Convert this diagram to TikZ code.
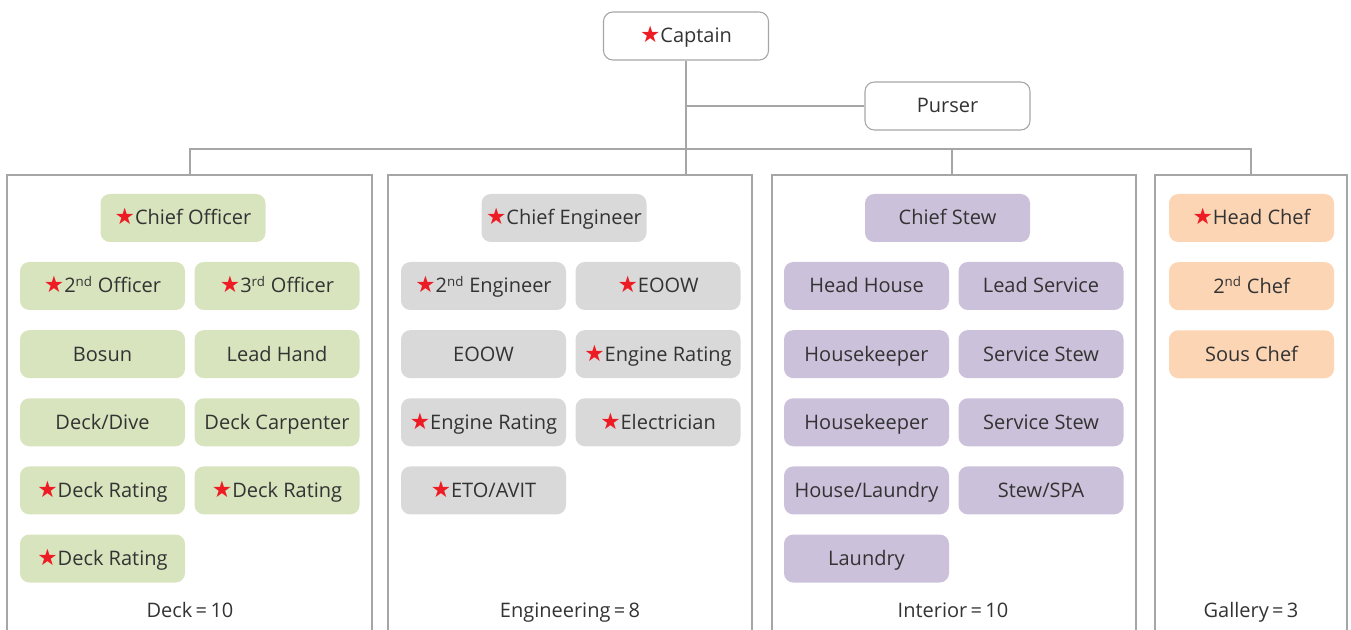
\documentclass[tikz,border=0pt]{standalone}
\usepackage{fontspec}
\setmainfont{Open Sans}
\newfontfamily\symfont{DejaVu Sans}
\usepackage{tikz}
\usetikzlibrary{positioning}
\definecolor{deckgreen}{HTML}{D7E4BD}
\definecolor{enggray}{HTML}{D9D9D9}
\definecolor{intpurple}{HTML}{CCC1DA}
\definecolor{galorange}{HTML}{FCD5B5}
\definecolor{linegray}{HTML}{A6A6A6}
\definecolor{txtgray}{HTML}{333333}
\definecolor{starred}{HTML}{ED1C24}
\newcommand{\rstar}{{\color{starred}\symfont\fontsize{17}{17}\selectfont ★}}
\newcommand{\ordinal}[1]{\textsuperscript{\fontsize{10}{10}\selectfont #1}}
\tikzstyle{role} = [rectangle, rounded corners=7pt, minimum width=123.75pt, minimum height=36pt, inner sep=0pt, text height=12.5pt, text depth=2pt, align=center, text=txtgray, font=\fontsize{15}{18}\selectfont]
\tikzstyle{head} = [role, draw=linegray, line width=0.8pt, fill=white]
\tikzstyle{deck} = [role, fill=deckgreen]
\tikzstyle{eng} = [role, fill=enggray]
\tikzstyle{int} = [role, fill=intpurple]
\tikzstyle{gal} = [role, fill=galorange]
\tikzstyle{panel} = [draw=linegray, line width=0.8pt]
\tikzstyle{link} = [draw=linegray, line width=0.8pt]
\tikzstyle{count} = [text=txtgray, text height=12.5pt, text depth=2pt, font=\fontsize{15}{18}\selectfont]

\begin{document}
\begin{tikzpicture}[x=0.75pt, y=-0.75pt]
  \useasboundingbox (0,0) rectangle (1351,630);

  % Top of the chart
  \node [head] (cap) at (686,36) {\rstar Captain};
  \node [head] (pur) at (947.5,106) {Purser};

  % Panels (open at the bottom)
  \draw [panel] (7,630) -- (7,175) -- (372,175) -- (372,630);
  \draw [panel] (388,630) -- (388,175) -- (752,175) -- (752,630);
  \draw [panel] (772,630) -- (772,175) -- (1136,175) -- (1136,630);
  \draw [panel] (1155,630) -- (1155,175) -- (1347,175) -- (1347,630);
  \coordinate (decktop) at (190,175);
  \coordinate (engtop) at (686,175);
  \coordinate (inttop) at (952,175);
  \coordinate (galtop) at (1251,175);

  % Lines
  \draw [link] (cap) -- (engtop);
  \draw [link] (cap.south |- pur.west) -- (pur.west);
  \draw [link] (decktop) -- ++(0,-26) -| (galtop);
  \draw [link] (inttop) -- ++(0,-26);

  % Deck
  \node [deck] (d1) at (183,218) {\rstar Chief Officer};
  \node [deck] (d2) at (102.5,286) {\rstar 2\ordinal{nd} Officer};
  \node [deck, right=6.75pt of d2] (d3) {\rstar 3\ordinal{rd} Officer};
  \node [deck, below=14.7pt of d2] (d4) {Bosun};
  \node [deck, right=6.75pt of d4] (d5) {Lead Hand};
  \node [deck, below=14.7pt of d4] (d6) {Deck/Dive};
  \node [deck, right=6.75pt of d6] (d7) {Deck Carpenter};
  \node [deck, below=14.7pt of d6] (d8) {\rstar Deck Rating};
  \node [deck, right=6.75pt of d8] (d9) {\rstar Deck Rating};
  \node [deck, below=14.7pt of d8] (d10) {\rstar Deck Rating};
  \node [count] (dcount) at (190,610) {Deck\,=\,10};

  % Engineering
  \node [eng] (e1) at (564,218) {\rstar Chief Engineer};
  \node [eng] (e2) at (483.5,286) {\rstar 2\ordinal{nd} Engineer};
  \node [eng, right=6.75pt of e2] (e3) {\rstar EOOW};
  \node [eng, below=14.7pt of e2] (e4) {EOOW};
  \node [eng, right=6.75pt of e4] (e5) {\rstar Engine Rating};
  \node [eng, below=14.7pt of e4] (e6) {\rstar Engine Rating};
  \node [eng, right=6.75pt of e6] (e7) {\rstar Electrician};
  \node [eng, below=14.7pt of e6] (e8) {\rstar ETO/AVIT};
  \node [count] (ecount) at (570,610) {Engineering\,=\,8};

  % Interior
  \node [int] (i1) at (947.5,218) {Chief Stew};
  \node [int] (i2) at (866.5,286) {Head House};
  \node [int, right=6.75pt of i2] (i3) {Lead Service};
  \node [int, below=14.7pt of i2] (i4) {Housekeeper};
  \node [int, right=6.75pt of i4] (i5) {Service Stew};
  \node [int, below=14.7pt of i4] (i6) {Housekeeper};
  \node [int, right=6.75pt of i6] (i7) {Service Stew};
  \node [int, below=14.7pt of i6] (i8) {House/Laundry};
  \node [int, right=6.75pt of i8] (i9) {Stew/SPA};
  \node [int, below=14.7pt of i8] (i10) {Laundry};
  \node [count] (icount) at (953,610) {Interior\,=\,10};

  % Gallery
  \node [gal] (g1) at (1251.5,218) {\rstar Head Chef};
  \node [gal, below=14.7pt of g1] (g2) {2\ordinal{nd} Chef};
  \node [gal, below=14.7pt of g2] (g3) {Sous Chef};
  \node [count] (gcount) at (1251,610) {Gallery\,=\,3};
\end{tikzpicture}
\end{document}
